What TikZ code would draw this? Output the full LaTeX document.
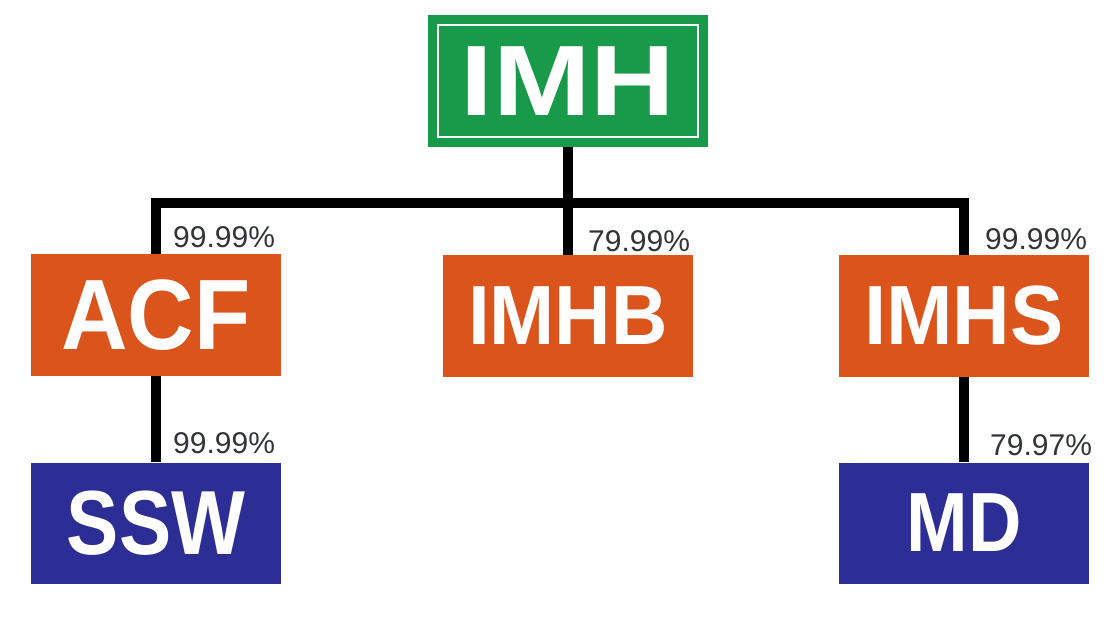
\documentclass[tikz,border=0pt]{standalone}
\usepackage{fontspec}
\setmainfont{Liberation Sans}
\definecolor{imhgreen}{RGB}{24,154,74}
\definecolor{boxorange}{RGB}{218,84,28}
\definecolor{boxblue}{RGB}{44,46,150}
\definecolor{pcgrey}{RGB}{50,52,56}
\newcommand{\boxtext}[3]{\fontsize{#1}{#1}\selectfont\bfseries\scalebox{#2}[1]{#3}}
\tikzset{
  orgbox/.style={draw=none, minimum width=250pt, minimum height=121pt, inner sep=0pt, text=white},
  conn/.style={line width=10pt, black, line join=miter},
  pct/.style={anchor=base west, inner sep=0pt, text=pcgrey, font=\fontsize{30}{30}\selectfont}
}
\begin{document}
\begin{tikzpicture}[x=1pt,y=-1pt]
\useasboundingbox[fill=white] (0,0) rectangle (1115,617);
% boxes
\node[orgbox, fill=imhgreen, minimum width=280pt, minimum height=132pt] (imh) at (568,81) {\boxtext{100}{1.17}{IMH}};
\draw[white, line width=1.8pt] ([shift={(10pt,-10pt)}]imh.north west) rectangle ([shift={(-10pt,10pt)}]imh.south east);
\node[orgbox, fill=boxorange] (acf) at (156,315) {\boxtext{100}{0.92}{ACF}};
\node[orgbox, fill=boxorange] (imhb) at (568,316) {\boxtext{84}{0.93}{IMHB}};
\node[orgbox, fill=boxorange] (imhs) at (964,316) {\boxtext{84}{0.95}{IMHS}};
\node[orgbox, fill=boxblue] (ssw) at (156,523) {\boxtext{91}{0.86}{SSW}};
\node[orgbox, fill=boxblue] (md) at (964,523) {\boxtext{84}{0.88}{MD}};
% connectors
\coordinate (bus) at (568,203);
\draw[conn] (imh.south) -- (imhb.north);
\draw[conn] (acf.north) |- (bus) -| (imhs.north);
\draw[conn] (acf.south) -- (ssw.north);
\draw[conn] (imhs.south) -- (md.north);
% percentages
\node[pct] (p1) at ([xshift=17pt,yshift=7pt]acf.north) {99.99\%};
\node[pct] (p2) at ([xshift=20pt,yshift=4pt]imhb.north) {79.99\%};
\node[pct] (p3) at ([xshift=21pt,yshift=6pt]imhs.north) {99.99\%};
\node[pct] (p4) at ([xshift=17pt,yshift=9pt]ssw.north) {99.99\%};
\node[pct] (p5) at ([xshift=26pt,yshift=7pt]md.north) {79.97\%};
\end{tikzpicture}
\end{document}
